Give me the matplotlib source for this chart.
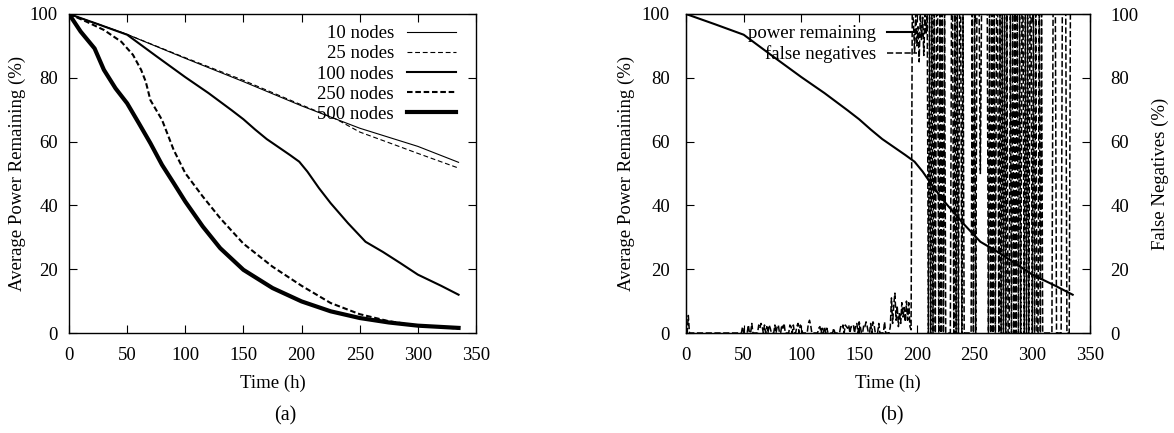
import numpy as np
import matplotlib.pyplot as plt

plt.rcParams['font.family'] = ['Liberation Serif', 'DejaVu Serif']
plt.rcParams['font.size'] = 13.5
plt.rcParams['lines.scale_dashes'] = False

# panel (a): power remaining vs time
t10 = [0, 50, 100, 150, 200, 250, 300, 335]
p10 = [100, 93.6, 86.1, 78.8, 71.2, 64.2, 58.5, 53.5]

t25 = [0, 50, 100, 150, 200, 230, 250, 280, 300, 335]
p25 = [100, 93.6, 86.3, 79.2, 71.5, 67.0, 63.0, 59.0, 56.3, 51.7]

t100 = [0, 25, 50, 75, 100, 120, 140, 150, 160, 170, 180, 190, 198, 205,
        215, 225, 240, 255, 270, 285, 300, 320, 335]
p100 = [100, 96.8, 93.5, 86.8, 80.2, 75.2, 69.8, 67.0, 63.8, 60.8, 58.3,
        55.8, 53.7, 50.6, 45.4, 40.7, 34.4, 28.6, 25.4, 21.9, 18.3, 14.8,
        12.0]

t250 = [0, 15, 30, 45, 55, 62, 66, 70, 80, 90, 100, 115, 130, 150, 175,
        200, 225, 250, 275, 300, 335]
p250 = [100, 97.6, 95.0, 91.3, 87.2, 82.5, 78.8, 73.0, 66.8, 57.4, 50.1,
        42.8, 36.0, 28.0, 20.8, 14.8, 9.4, 5.9, 3.7, 2.3, 1.4]

t500 = [0, 10, 22, 30, 40, 50, 60, 70, 80, 90, 100, 115, 130, 150, 175,
        200, 225, 250, 275, 300, 335]
p500 = [100, 94.5, 89.2, 82.5, 76.7, 72.0, 65.8, 59.5, 52.7, 47.0, 41.2,
        33.4, 26.6, 19.8, 14.1, 9.9, 6.8, 4.7, 3.3, 2.3, 1.6]

# panel (b): false negatives (%), one value per hour, one day per row
fn_values = [
    0, 0, 5.5, 0, 0, 0, 0, 0, 0, 0, 0, 0, 0, 0, 0, 0, 0, 0, 0, 0, 0, 0, 0, 0,
    0, 0, 0, 0, 0, 0, 0, 0, 0, 0, 0, 0, 0, 0, 0, 0, 0, 0, 0, 0, 0, 0, 0, 0,
    0, 2.0, 0, 0, 0, 0, 2.5, 0, 0, 3.0, 0, 0, 0, 0, 0, 2.5, 1.5, 3.0, 2.0, 0, 2.5, 0, 2.0, 0,
    2.5, 1.5, 0, 0, 0, 2.5, 0, 2.0, 2.5, 0, 0, 2.5, 1.5, 3.0, 0, 0, 0, 0, 2.5, 2.0, 0, 2.5, 0, 0,
    2.0, 3.0, 0, 2.5, 1.5, 0, 0, 0, 0, 0, 3.0, 4.0, 2.5, 0, 0, 0, 0, 0, 0, 1.5, 2.0, 0, 1.5, 0,
    2.0, 0, 1.5, 0, 0, 0, 0, 0, 1.5, 0, 0, 0, 0, 0, 2.0, 1.5, 2.5, 0, 2.5, 2.0, 1.5, 2.5, 0, 2.0,
    2.0, 2.5, 0, 2.5, 3.0, 0, 3.5, 2.0, 0, 0, 2.5, 2.0, 3.5, 2.0, 0, 0, 3.0, 0, 3.5, 2.5, 0, 0, 0, 3.0,
    0, 0, 0, 0, 3.5, 0, 0, 0, 0, 2.0, 11.0, 3.0, 9.0, 12.5, 4.0, 8.5, 2.0, 6.5, 3.0, 9.5, 5.0, 8.0, 3.5, 10.0,
    4.0, 9.5, 2.0, 1.0, 100, 98, 88, 100, 90, 96, 85, 100, 92, 99, 87, 100, 94, 100, 0, 100, 0, 100, 0, 100,
    0, 100, 100, 0, 100, 0, 100, 0, 100, 0, 0, 0, 0, 0, 100, 100, 0, 100, 0, 100, 0, 100, 100, 0,
    100, 0, 0, 0, 0, 0, 0, 0, 100, 0, 100, 0, 100, 100, 100, 50, 100, 100, 100, 100, 100, 100, 0, 100,
    0, 100, 0, 100, 0, 100, 100, 0, 100, 0, 100, 0, 100, 0, 100, 0, 0, 100, 0, 100, 0, 100, 0, 100,
    0, 100, 0, 100, 100, 0, 100, 0, 100, 0, 100, 100, 0, 100, 0, 100, 0, 0, 100, 0, 100, 0, 0, 0,
    0, 0, 0, 0, 0, 0, 100, 100, 100, 0, 0, 0, 0, 0, 100, 100, 100, 100, 0, 0, 0, 100, 100, 100,
]
fn_hours = np.arange(len(fn_values))

W, H = 1174, 433
fig = plt.figure(figsize=(W / 100, H / 100), dpi=100)
ax1 = fig.add_axes([69 / W, 100 / H, 407 / W, 319 / H])
ax2 = fig.add_axes([686 / W, 100 / H, 404 / W, 319 / H])


def style_axes(ax, ypad, ylabelpad, right=True):
    ax.set_xlim(0, 350)
    ax.set_ylim(0, 100)
    ax.set_xticks(range(0, 351, 50))
    ax.set_yticks(range(0, 101, 20))
    ax.tick_params(direction='in', length=5.8, width=0.8, top=True,
                   right=right)
    ax.tick_params(axis='y', pad=ypad)
    ax.tick_params(axis='x', pad=10)
    for s in ax.spines.values():
        s.set_linewidth(1.0)
    ax.set_xlabel('Time (h)', labelpad=8)
    ax.set_ylabel('Average Power Remaining (%)', labelpad=ylabelpad)


style_axes(ax1, 8, 3)
ax1.plot(t10, p10, color='k', lw=0.8, label='10 nodes')
ax1.plot(t25, p25, color='k', lw=0.8, ls=(0, (3.5, 2)), label='25 nodes')
ax1.plot(t100, p100, color='k', lw=1.5, label='100 nodes')
ax1.plot(t250, p250, color='k', lw=1.5, ls=(0, (4, 2)), label='250 nodes')
ax1.plot(t500, p500, color='k', lw=3.0, label='500 nodes')
ax1.legend(loc='upper right', bbox_to_anchor=(0.95, 0.965), frameon=False,
           markerfirst=False, handlelength=2.6, handletextpad=0.7,
           labelspacing=0.16, borderaxespad=0, borderpad=0)

style_axes(ax2, 11.5, 5, right=False)
ax2b = ax2.twinx()
ax2b.set_ylim(0, 100)
ax2b.set_yticks(range(0, 101, 20))
ax2b.tick_params(direction='in', length=5.8, width=0.8, pad=14.5)
ax2b.set_ylabel('False Negatives (%)', labelpad=10)
ln1, = ax2.plot(t100, p100, color='k', lw=1.5, label='power remaining')
ln2, = ax2b.plot(fn_hours, fn_values, color='k', lw=1.1, ls=(0, (4.5, 1.8)),
                 label='false negatives')
ax2b.legend(handles=[ln1, ln2], loc='upper right',
            bbox_to_anchor=(0.572, 0.965), frameon=False, markerfirst=False,
            handlelength=1.6, handletextpad=0.6, labelspacing=0.16,
            borderaxespad=0, borderpad=0)

fig.text(285 / W, (H - 416) / H, '(a)', ha='center', va='center',
         fontsize=14.5)
fig.text(892 / W, (H - 416) / H, '(b)', ha='center', va='center',
         fontsize=14.5)

fig.savefig('out.png', dpi=100)
